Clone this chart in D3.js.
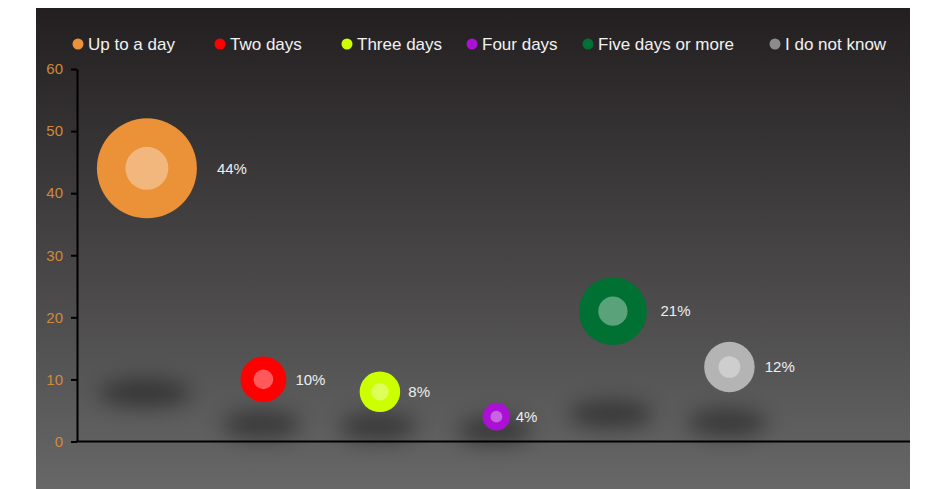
<!DOCTYPE html>
<html>
<head>
<meta charset="utf-8">
<script src="https://cdn.jsdelivr.net/npm/d3@7/dist/d3.min.js"></script>
<style>
  html, body { margin: 0; padding: 0; background: #fff; }
  svg { display: block; }
  text { font-family: "Liberation Sans", Arial, Helvetica, sans-serif; }
</style>
</head>
<body>
<div id="chart"></div>
<script>
// Survey answers: share of respondents per duration category
const categories = ["Up to a day", "Two days", "Three days", "Four days", "Five days or more", "I do not know"];
const values = [44, 10, 8, 4, 21, 12];
const valueLabels = ["44%", "10%", "8%", "4%", "21%", "12%"];
const bubbleColors = ["#eb9137", "#ff0000", "#ccff00", "#aa11d4", "#007033", "#b4b4b4"];
const legendColors = ["#eb9137", "#ff0000", "#ccff00", "#aa11d4", "#007033", "#8c8c8c"];
const yTicks = [0, 10, 20, 30, 40, 50, 60];

// Layout
const W = 926, H = 489;
const panel = { x: 36, y: 8, w: 874, h: 481 };
const plot = { left: 77, right: 910, top: 69, bottom: 441.5 };
const legendX = [78, 220, 347, 472, 588, 775];
const legendY = 44;

const svg = d3.select("#chart").append("svg")
  .attr("width", W).attr("height", H);

const defs = svg.append("defs");
const grad = defs.append("linearGradient")
  .attr("id", "bg").attr("x1", 0).attr("y1", 0).attr("x2", 0).attr("y2", 1);
grad.append("stop").attr("offset", "0%").attr("stop-color", "#231f20");
grad.append("stop").attr("offset", "100%").attr("stop-color", "#676767");

const blur = defs.append("filter").attr("id", "soft")
  .attr("x", "-80%").attr("y", "-250%").attr("width", "260%").attr("height", "600%");
blur.append("feGaussianBlur").attr("stdDeviation", 10);

svg.append("rect")
  .attr("x", panel.x).attr("y", panel.y)
  .attr("width", panel.w).attr("height", panel.h)
  .attr("fill", "url(#bg)");

// Scales
const y = d3.scaleLinear().domain([0, 60]).range([plot.bottom, plot.top]);
const x = d3.scaleLinear().domain([0.4, 7.55]).range([plot.left, plot.right]);
const r = d3.scaleSqrt().domain([4, 44]).range([13.8, 50]);

const data = categories.map((c, i) => ({
  name: c, value: values[i], label: valueLabels[i],
  color: bubbleColors[i], pos: i + 1
}));

// Floor shadows under each bubble
svg.append("g").selectAll("ellipse")
  .data(data).join("ellipse")
  .attr("cx", d => x(d.pos) - 2)
  .attr("cy", d => y(1.2 + 0.15 * d.value))
  .attr("rx", d => 34 + r(d.value) * 0.25)
  .attr("ry", 14)
  .attr("fill", "#000")
  .attr("opacity", 0.38)
  .attr("filter", "url(#soft)");

// Axes
const yAxis = svg.append("g")
  .attr("transform", `translate(${plot.left},0)`)
  .call(d3.axisLeft(y).tickValues(yTicks).tickSize(6).tickPadding(8).tickSizeOuter(0));
yAxis.select(".domain").attr("stroke", "#000").attr("stroke-width", 2);
yAxis.selectAll(".tick line").attr("stroke", "#000").attr("stroke-width", 2);
yAxis.selectAll(".tick text")
  .attr("fill", "#d08a3a")
  .style("font-size", "15px")
  .style("font-family", "'Liberation Sans', Arial, sans-serif");

svg.append("line")
  .attr("x1", plot.left - 1).attr("x2", plot.right)
  .attr("y1", y(0)).attr("y2", y(0))
  .attr("stroke", "#000").attr("stroke-width", 2);

// Bubbles
const bubbles = svg.append("g").selectAll("g")
  .data(data).join("g")
  .attr("transform", d => `translate(${x(d.pos)},${y(d.value)})`);

bubbles.append("circle")
  .attr("r", d => r(d.value))
  .attr("fill", d => d.color);

bubbles.append("circle")
  .attr("r", d => r(d.value) * 0.43)
  .attr("fill", "#fff")
  .attr("fill-opacity", 0.35);

bubbles.append("text")
  .attr("x", d => r(d.value) * 1.4)
  .attr("y", 0)
  .attr("dy", "0.35em")
  .attr("fill", "#eeeeee")
  .style("font-size", "15px")
  .text(d => d.label);

// Legend
const legend = svg.append("g").selectAll("g")
  .data(data).join("g")
  .attr("transform", (d, i) => `translate(${legendX[i]},${legendY})`);

legend.append("circle")
  .attr("r", 5.5)
  .attr("fill", (d, i) => legendColors[i]);

legend.append("text")
  .attr("x", 10)
  .attr("dy", "0.36em")
  .attr("fill", "#f2f2f2")
  .style("font-size", "17px")
  .text(d => d.name);
</script>
</body>
</html>
